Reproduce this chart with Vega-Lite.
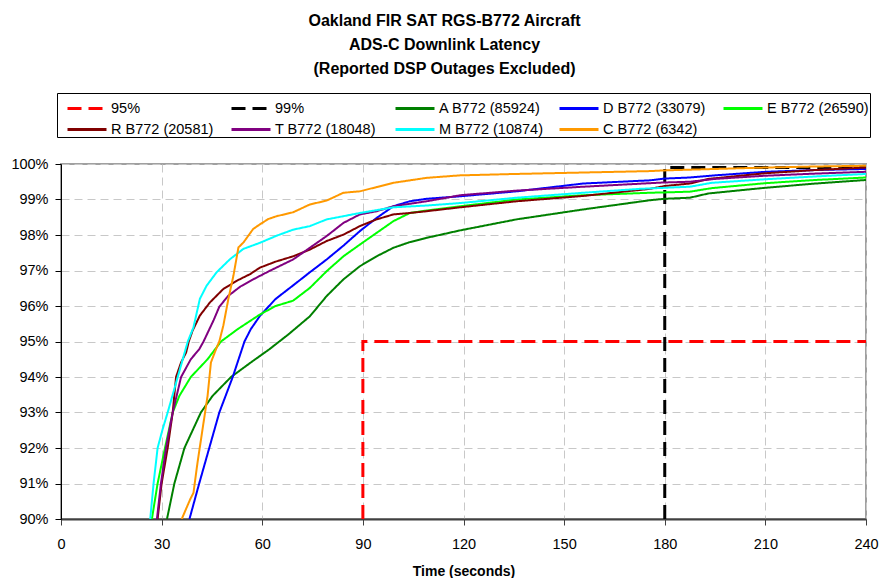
{
  "$schema": "https://vega.github.io/schema/vega-lite/v6.json",
  "width": 805,
  "height": 355,
  "autosize": {"type": "none"},
  "padding": {"left": 61, "top": 164, "right": 14, "bottom": 59},
  "background": "white",
  "title": {
    "text": ["Oakland FIR SAT RGS-B772 Aircraft", "ADS-C Downlink Latency", "(Reported DSP Outages Excluded)"],
    "font": "Liberation Sans",
    "fontSize": 16,
    "fontWeight": "bold",
    "lineHeight": 24,
    "color": "black",
    "anchor": "middle",
    "frame": "bounds",
    "offset": 16
  },
  "config": {
    "view": {"stroke": "#a0a0a0", "strokeWidth": 2},
    "font": "Liberation Sans"
  },
  "datasets": {
    "ref": [
      {"s": "95%", "t": 90, "p": 90, "i": 0},
      {"s": "95%", "t": 90, "p": 95, "i": 1},
      {"s": "95%", "t": 240, "p": 95, "i": 2},
      {"s": "99%", "t": 180, "p": 90, "i": 0},
      {"s": "99%", "t": 180, "p": 99.9, "i": 1},
      {"s": "99%", "t": 240, "p": 99.9, "i": 2}
    ],
    "curves": [
      {"s": "A B772 (85924)", "t": 31.6, "p": 90},
      {"s": "A B772 (85924)", "t": 33.8, "p": 91},
      {"s": "A B772 (85924)", "t": 36.8, "p": 92},
      {"s": "A B772 (85924)", "t": 41.7, "p": 93},
      {"s": "A B772 (85924)", "t": 45.2, "p": 93.47},
      {"s": "A B772 (85924)", "t": 50.7, "p": 94},
      {"s": "A B772 (85924)", "t": 56.6, "p": 94.41},
      {"s": "A B772 (85924)", "t": 62.1, "p": 94.78},
      {"s": "A B772 (85924)", "t": 67.8, "p": 95.2},
      {"s": "A B772 (85924)", "t": 74.2, "p": 95.71},
      {"s": "A B772 (85924)", "t": 79.2, "p": 96.28},
      {"s": "A B772 (85924)", "t": 84.2, "p": 96.75},
      {"s": "A B772 (85924)", "t": 89.1, "p": 97.12},
      {"s": "A B772 (85924)", "t": 94.1, "p": 97.4},
      {"s": "A B772 (85924)", "t": 99.1, "p": 97.64},
      {"s": "A B772 (85924)", "t": 104, "p": 97.8},
      {"s": "A B772 (85924)", "t": 109, "p": 97.92},
      {"s": "A B772 (85924)", "t": 119, "p": 98.13},
      {"s": "A B772 (85924)", "t": 135.8, "p": 98.44},
      {"s": "A B772 (85924)", "t": 155.7, "p": 98.72},
      {"s": "A B772 (85924)", "t": 175.6, "p": 98.98},
      {"s": "A B772 (85924)", "t": 180, "p": 99.02},
      {"s": "A B772 (85924)", "t": 187.5, "p": 99.05},
      {"s": "A B772 (85924)", "t": 193, "p": 99.17},
      {"s": "A B772 (85924)", "t": 210, "p": 99.33},
      {"s": "A B772 (85924)", "t": 225, "p": 99.45},
      {"s": "A B772 (85924)", "t": 240, "p": 99.55},

      {"s": "D B772 (33079)", "t": 38.3, "p": 90},
      {"s": "D B772 (33079)", "t": 41.2, "p": 91},
      {"s": "D B772 (33079)", "t": 44.2, "p": 92},
      {"s": "D B772 (33079)", "t": 47.2, "p": 93},
      {"s": "D B772 (33079)", "t": 51.2, "p": 94},
      {"s": "D B772 (33079)", "t": 54.7, "p": 95},
      {"s": "D B772 (33079)", "t": 56.6, "p": 95.35},
      {"s": "D B772 (33079)", "t": 59.3, "p": 95.72},
      {"s": "D B772 (33079)", "t": 64, "p": 96.2},
      {"s": "D B772 (33079)", "t": 69.2, "p": 96.58},
      {"s": "D B772 (33079)", "t": 74.2, "p": 96.95},
      {"s": "D B772 (33079)", "t": 79.2, "p": 97.31},
      {"s": "D B772 (33079)", "t": 84.2, "p": 97.7},
      {"s": "D B772 (33079)", "t": 89.1, "p": 98.11},
      {"s": "D B772 (33079)", "t": 94.1, "p": 98.48},
      {"s": "D B772 (33079)", "t": 99.1, "p": 98.81},
      {"s": "D B772 (33079)", "t": 104, "p": 98.95},
      {"s": "D B772 (33079)", "t": 109, "p": 99.02},
      {"s": "D B772 (33079)", "t": 119, "p": 99.09},
      {"s": "D B772 (33079)", "t": 135.8, "p": 99.23},
      {"s": "D B772 (33079)", "t": 155.7, "p": 99.45},
      {"s": "D B772 (33079)", "t": 175.6, "p": 99.54},
      {"s": "D B772 (33079)", "t": 180, "p": 99.59},
      {"s": "D B772 (33079)", "t": 187.5, "p": 99.62},
      {"s": "D B772 (33079)", "t": 195, "p": 99.68},
      {"s": "D B772 (33079)", "t": 210, "p": 99.78},
      {"s": "D B772 (33079)", "t": 225, "p": 99.83},
      {"s": "D B772 (33079)", "t": 240, "p": 99.86},

      {"s": "E B772 (26590)", "t": 27.1, "p": 90},
      {"s": "E B772 (26590)", "t": 28.8, "p": 91},
      {"s": "E B772 (26590)", "t": 31, "p": 92},
      {"s": "E B772 (26590)", "t": 33.3, "p": 93},
      {"s": "E B772 (26590)", "t": 35.3, "p": 93.47},
      {"s": "E B772 (26590)", "t": 38.7, "p": 94},
      {"s": "E B772 (26590)", "t": 43.7, "p": 94.5},
      {"s": "E B772 (26590)", "t": 47.7, "p": 95},
      {"s": "E B772 (26590)", "t": 52.7, "p": 95.35},
      {"s": "E B772 (26590)", "t": 55.6, "p": 95.53},
      {"s": "E B772 (26590)", "t": 59.3, "p": 95.76},
      {"s": "E B772 (26590)", "t": 64, "p": 96.0},
      {"s": "E B772 (26590)", "t": 69.2, "p": 96.15},
      {"s": "E B772 (26590)", "t": 74.2, "p": 96.51},
      {"s": "E B772 (26590)", "t": 79.2, "p": 96.98},
      {"s": "E B772 (26590)", "t": 84.2, "p": 97.4},
      {"s": "E B772 (26590)", "t": 89.1, "p": 97.73},
      {"s": "E B772 (26590)", "t": 94.1, "p": 98.06},
      {"s": "E B772 (26590)", "t": 99.1, "p": 98.39},
      {"s": "E B772 (26590)", "t": 104, "p": 98.62},
      {"s": "E B772 (26590)", "t": 109, "p": 98.69},
      {"s": "E B772 (26590)", "t": 119, "p": 98.81},
      {"s": "E B772 (26590)", "t": 135.8, "p": 99.0},
      {"s": "E B772 (26590)", "t": 155.7, "p": 99.12},
      {"s": "E B772 (26590)", "t": 175.6, "p": 99.19},
      {"s": "E B772 (26590)", "t": 180, "p": 99.2},
      {"s": "E B772 (26590)", "t": 187.5, "p": 99.22},
      {"s": "E B772 (26590)", "t": 194, "p": 99.32},
      {"s": "E B772 (26590)", "t": 210, "p": 99.46},
      {"s": "E B772 (26590)", "t": 225, "p": 99.55},
      {"s": "E B772 (26590)", "t": 240, "p": 99.62},

      {"s": "R B772 (20581)", "t": 28.8, "p": 90},
      {"s": "R B772 (20581)", "t": 30, "p": 91},
      {"s": "R B772 (20581)", "t": 31.8, "p": 92},
      {"s": "R B772 (20581)", "t": 33.3, "p": 93},
      {"s": "R B772 (20581)", "t": 34.3, "p": 94},
      {"s": "R B772 (20581)", "t": 35.8, "p": 94.41},
      {"s": "R B772 (20581)", "t": 37.3, "p": 94.69},
      {"s": "R B772 (20581)", "t": 38.1, "p": 95},
      {"s": "R B772 (20581)", "t": 39.2, "p": 95.3},
      {"s": "R B772 (20581)", "t": 41.4, "p": 95.73},
      {"s": "R B772 (20581)", "t": 44.4, "p": 96.1},
      {"s": "R B772 (20581)", "t": 48.4, "p": 96.48},
      {"s": "R B772 (20581)", "t": 52.4, "p": 96.71},
      {"s": "R B772 (20581)", "t": 56.4, "p": 96.9},
      {"s": "R B772 (20581)", "t": 59.3, "p": 97.08},
      {"s": "R B772 (20581)", "t": 64, "p": 97.25},
      {"s": "R B772 (20581)", "t": 69.2, "p": 97.4},
      {"s": "R B772 (20581)", "t": 74.2, "p": 97.59},
      {"s": "R B772 (20581)", "t": 79.2, "p": 97.83},
      {"s": "R B772 (20581)", "t": 84.2, "p": 98.01},
      {"s": "R B772 (20581)", "t": 89.1, "p": 98.25},
      {"s": "R B772 (20581)", "t": 94.1, "p": 98.44},
      {"s": "R B772 (20581)", "t": 99.1, "p": 98.58},
      {"s": "R B772 (20581)", "t": 104, "p": 98.62},
      {"s": "R B772 (20581)", "t": 109, "p": 98.67},
      {"s": "R B772 (20581)", "t": 119, "p": 98.78},
      {"s": "R B772 (20581)", "t": 135.8, "p": 98.95},
      {"s": "R B772 (20581)", "t": 155.7, "p": 99.1},
      {"s": "R B772 (20581)", "t": 175.6, "p": 99.3},
      {"s": "R B772 (20581)", "t": 180, "p": 99.38},
      {"s": "R B772 (20581)", "t": 187.5, "p": 99.45},
      {"s": "R B772 (20581)", "t": 193, "p": 99.58},
      {"s": "R B772 (20581)", "t": 210, "p": 99.74},
      {"s": "R B772 (20581)", "t": 225, "p": 99.83},
      {"s": "R B772 (20581)", "t": 240, "p": 99.9},

      {"s": "T B772 (18048)", "t": 28.6, "p": 90},
      {"s": "T B772 (18048)", "t": 29.8, "p": 91},
      {"s": "T B772 (18048)", "t": 31.3, "p": 92},
      {"s": "T B772 (18048)", "t": 33.3, "p": 93},
      {"s": "T B772 (18048)", "t": 35.8, "p": 94},
      {"s": "T B772 (18048)", "t": 38.7, "p": 94.5},
      {"s": "T B772 (18048)", "t": 41.2, "p": 94.78},
      {"s": "T B772 (18048)", "t": 42.5, "p": 95},
      {"s": "T B772 (18048)", "t": 45.5, "p": 95.6},
      {"s": "T B772 (18048)", "t": 47.2, "p": 95.98},
      {"s": "T B772 (18048)", "t": 49.8, "p": 96.28},
      {"s": "T B772 (18048)", "t": 53.5, "p": 96.55},
      {"s": "T B772 (18048)", "t": 57.3, "p": 96.75},
      {"s": "T B772 (18048)", "t": 61.8, "p": 96.97},
      {"s": "T B772 (18048)", "t": 69.2, "p": 97.31},
      {"s": "T B772 (18048)", "t": 74.2, "p": 97.64},
      {"s": "T B772 (18048)", "t": 79.2, "p": 97.97},
      {"s": "T B772 (18048)", "t": 84.2, "p": 98.34},
      {"s": "T B772 (18048)", "t": 89.1, "p": 98.58},
      {"s": "T B772 (18048)", "t": 94.1, "p": 98.67},
      {"s": "T B772 (18048)", "t": 99.1, "p": 98.81},
      {"s": "T B772 (18048)", "t": 109, "p": 98.95},
      {"s": "T B772 (18048)", "t": 119, "p": 99.12},
      {"s": "T B772 (18048)", "t": 135.8, "p": 99.25},
      {"s": "T B772 (18048)", "t": 155.7, "p": 99.36},
      {"s": "T B772 (18048)", "t": 175.6, "p": 99.46},
      {"s": "T B772 (18048)", "t": 180, "p": 99.48},
      {"s": "T B772 (18048)", "t": 187.5, "p": 99.5},
      {"s": "T B772 (18048)", "t": 195, "p": 99.58},
      {"s": "T B772 (18048)", "t": 210, "p": 99.67},
      {"s": "T B772 (18048)", "t": 225, "p": 99.73},
      {"s": "T B772 (18048)", "t": 240, "p": 99.78},

      {"s": "M B772 (10874)", "t": 26.6, "p": 90},
      {"s": "M B772 (10874)", "t": 27.6, "p": 91},
      {"s": "M B772 (10874)", "t": 28.8, "p": 92},
      {"s": "M B772 (10874)", "t": 30.3, "p": 92.53},
      {"s": "M B772 (10874)", "t": 31.8, "p": 93},
      {"s": "M B772 (10874)", "t": 34.8, "p": 94},
      {"s": "M B772 (10874)", "t": 37.8, "p": 95},
      {"s": "M B772 (10874)", "t": 39.5, "p": 95.4},
      {"s": "M B772 (10874)", "t": 41.4, "p": 96.2},
      {"s": "M B772 (10874)", "t": 43.4, "p": 96.57},
      {"s": "M B772 (10874)", "t": 46.4, "p": 96.95},
      {"s": "M B772 (10874)", "t": 50.4, "p": 97.32},
      {"s": "M B772 (10874)", "t": 54.4, "p": 97.61},
      {"s": "M B772 (10874)", "t": 59.3, "p": 97.78},
      {"s": "M B772 (10874)", "t": 64.3, "p": 97.98},
      {"s": "M B772 (10874)", "t": 69.2, "p": 98.15},
      {"s": "M B772 (10874)", "t": 74.2, "p": 98.25},
      {"s": "M B772 (10874)", "t": 79.2, "p": 98.44},
      {"s": "M B772 (10874)", "t": 84.2, "p": 98.53},
      {"s": "M B772 (10874)", "t": 89.1, "p": 98.62},
      {"s": "M B772 (10874)", "t": 94.1, "p": 98.7},
      {"s": "M B772 (10874)", "t": 99.1, "p": 98.78},
      {"s": "M B772 (10874)", "t": 109, "p": 98.83},
      {"s": "M B772 (10874)", "t": 119, "p": 98.9},
      {"s": "M B772 (10874)", "t": 135.8, "p": 99.05},
      {"s": "M B772 (10874)", "t": 155.7, "p": 99.19},
      {"s": "M B772 (10874)", "t": 172.6, "p": 99.3},
      {"s": "M B772 (10874)", "t": 180, "p": 99.33},
      {"s": "M B772 (10874)", "t": 187.5, "p": 99.36},
      {"s": "M B772 (10874)", "t": 194, "p": 99.47},
      {"s": "M B772 (10874)", "t": 210, "p": 99.57},
      {"s": "M B772 (10874)", "t": 225, "p": 99.65},
      {"s": "M B772 (10874)", "t": 240, "p": 99.72},

      {"s": "C B772 (6342)", "t": 36, "p": 90},
      {"s": "C B772 (6342)", "t": 38.5, "p": 90.55},
      {"s": "C B772 (6342)", "t": 39.5, "p": 90.74},
      {"s": "C B772 (6342)", "t": 40.7, "p": 91.59},
      {"s": "C B772 (6342)", "t": 42.2, "p": 92.53},
      {"s": "C B772 (6342)", "t": 43.7, "p": 93.47},
      {"s": "C B772 (6342)", "t": 44.7, "p": 94.41},
      {"s": "C B772 (6342)", "t": 46.2, "p": 94.78},
      {"s": "C B772 (6342)", "t": 47.2, "p": 95},
      {"s": "C B772 (6342)", "t": 48.4, "p": 95.45},
      {"s": "C B772 (6342)", "t": 49.9, "p": 96.2},
      {"s": "C B772 (6342)", "t": 51.4, "p": 96.85},
      {"s": "C B772 (6342)", "t": 52.9, "p": 97.65},
      {"s": "C B772 (6342)", "t": 54.4, "p": 97.79},
      {"s": "C B772 (6342)", "t": 57.3, "p": 98.17},
      {"s": "C B772 (6342)", "t": 59.3, "p": 98.3},
      {"s": "C B772 (6342)", "t": 61.8, "p": 98.45},
      {"s": "C B772 (6342)", "t": 64.3, "p": 98.53},
      {"s": "C B772 (6342)", "t": 69.2, "p": 98.64},
      {"s": "C B772 (6342)", "t": 74.2, "p": 98.86},
      {"s": "C B772 (6342)", "t": 79.2, "p": 98.97},
      {"s": "C B772 (6342)", "t": 84.2, "p": 99.19},
      {"s": "C B772 (6342)", "t": 89.1, "p": 99.23},
      {"s": "C B772 (6342)", "t": 94.1, "p": 99.35},
      {"s": "C B772 (6342)", "t": 99.1, "p": 99.47},
      {"s": "C B772 (6342)", "t": 109, "p": 99.61},
      {"s": "C B772 (6342)", "t": 119, "p": 99.68},
      {"s": "C B772 (6342)", "t": 135.8, "p": 99.72},
      {"s": "C B772 (6342)", "t": 155.7, "p": 99.76},
      {"s": "C B772 (6342)", "t": 175.6, "p": 99.8},
      {"s": "C B772 (6342)", "t": 180, "p": 99.82},
      {"s": "C B772 (6342)", "t": 210, "p": 99.9},
      {"s": "C B772 (6342)", "t": 225, "p": 99.93},
      {"s": "C B772 (6342)", "t": 240, "p": 99.95}
    ]
  },
  "encoding": {
    "x": {
      "field": "t", "type": "quantitative",
      "scale": {"domain": [0, 240], "nice": false},
      "axis": {
        "values": [0, 30, 60, 90, 120, 150, 180, 210, 240],
        "title": "Time (seconds)",
        "titleFont": "Liberation Sans", "titleFontSize": 14, "titleFontWeight": "bold", "titleColor": "black", "titlePadding": 14,
        "labelFont": "Liberation Sans", "labelFontSize": 14.5, "labelColor": "black", "labelPadding": 12, "labelFlush": false,
        "tickSize": 6, "tickColor": "#404040", "domainColor": "#404040", "domainWidth": 2,
        "grid": true, "gridColor": "#c8c8c8", "gridDash": [8, 5], "gridWidth": 1
      }
    },
    "y": {
      "field": "p", "type": "quantitative",
      "scale": {"domain": [90, 100], "nice": false, "zero": false},
      "axis": {
        "values": [90, 91, 92, 93, 94, 95, 96, 97, 98, 99, 100],
        "labelExpr": "datum.value + '%'",
        "title": null,
        "labelFont": "Liberation Sans", "labelFontSize": 14.5, "labelColor": "black", "labelPadding": 7, "labelFlush": false,
        "tickSize": 6, "tickColor": "black", "domainColor": "black", "domainWidth": 1,
        "grid": true, "gridColor": "#c8c8c8", "gridDash": [8, 5], "gridWidth": 1
      }
    },
    "color": {
      "field": "s", "type": "nominal",
      "scale": {
        "domain": ["95%", "99%", "A B772 (85924)", "D B772 (33079)", "E B772 (26590)", "R B772 (20581)", "T B772 (18048)", "M B772 (10874)", "C B772 (6342)"],
        "range": ["#ff0000", "#000000", "#008000", "#0000ff", "#00ff00", "#800000", "#800080", "#00ffff", "#ff9900"]
      },
      "legend": {
        "orient": "none", "legendX": -4, "legendY": -71,
        "direction": "horizontal", "columns": 5, "title": null,
        "symbolType": "M-1,0H2", "symbolSize": 676, "symbolStrokeWidth": 3, "symbolOffset": 8,
        "labelFont": "Liberation Sans", "labelFontSize": 14.5, "labelColor": "black", "labelOffset": 16,
        "labelLimit": 200,
        "gridAlign": "all", "columnPadding": 7, "rowPadding": -4,
        "padding": 1, "strokeColor": "black", "fillColor": "white", "cornerRadius": 0
      }
    },
    "strokeDash": {
      "field": "s", "type": "nominal",
      "scale": {
        "domain": ["95%", "99%", "A B772 (85924)", "D B772 (33079)", "E B772 (26590)", "R B772 (20581)", "T B772 (18048)", "M B772 (10874)", "C B772 (6342)"],
        "range": [[14, 7], [14, 7], [1, 0], [1, 0], [1, 0], [1, 0], [1, 0], [1, 0], [1, 0]]
      }
    }
  },
  "layer": [
    {
      "data": {"name": "ref"},
      "mark": {"type": "line", "strokeWidth": 3, "clip": true},
      "encoding": {"order": {"field": "i", "type": "quantitative"}}
    },
    {
      "data": {"name": "curves"},
      "mark": {"type": "line", "strokeWidth": 2, "clip": true},
      "encoding": {}
    }
  ]
}
